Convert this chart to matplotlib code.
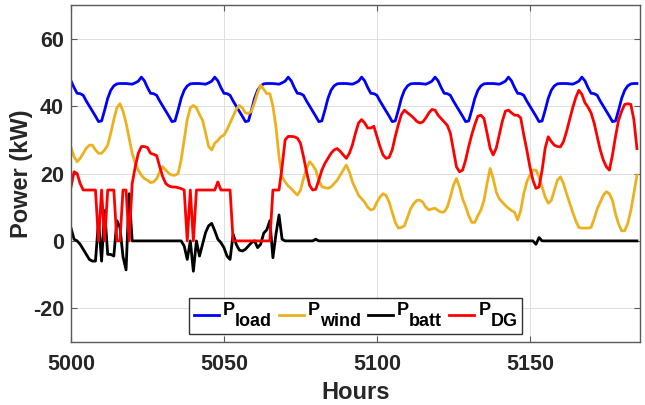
import numpy as np
import matplotlib
matplotlib.use("Agg")
import matplotlib.pyplot as plt
from matplotlib.offsetbox import AnchoredOffsetbox, HPacker, VPacker, TextArea, DrawingArea
from matplotlib.lines import Line2D

plt.rcParams['font.family'] = ['Liberation Sans', 'DejaVu Sans']
plt.rcParams['font.weight'] = 'bold'
plt.rcParams['axes.labelweight'] = 'bold'
plt.rcParams['axes.unicode_minus'] = False

hours = np.arange(5000, 5186)

p_load = [
    47.5, 45.5, 43.8, 43.7, 43.2, 41.5, 40.0, 38.5, 37.0, 35.4, 35.6, 38.8, 42.3, 44.7, 46.0, 46.6, 46.7, 46.7, 46.7, 46.6, 46.5, 46.9, 47.4, 48.6,
    47.5, 45.5, 43.8, 43.7, 43.2, 41.5, 40.0, 38.5, 37.0, 35.4, 35.6, 38.8, 42.3, 44.7, 46.0, 46.6, 46.7, 46.7, 46.7, 46.6, 46.5, 46.9, 47.4, 48.6,
    47.5, 45.5, 43.8, 43.7, 43.2, 41.5, 40.0, 38.5, 37.0, 35.4, 35.6, 38.8, 42.3, 44.7, 46.0, 46.6, 46.7, 46.7, 46.7, 46.6, 46.5, 46.9, 47.4, 48.6,
    47.5, 45.5, 43.8, 43.7, 43.2, 41.5, 40.0, 38.5, 37.0, 35.4, 35.6, 38.8, 42.3, 44.7, 46.0, 46.6, 46.7, 46.7, 46.7, 46.6, 46.5, 46.9, 47.4, 48.6,
    47.5, 45.5, 43.8, 43.7, 43.2, 41.5, 40.0, 38.5, 37.0, 35.4, 35.6, 38.8, 42.3, 44.7, 46.0, 46.6, 46.7, 46.7, 46.7, 46.6, 46.5, 46.9, 47.4, 48.6,
    47.5, 45.5, 43.8, 43.7, 43.2, 41.5, 40.0, 38.5, 37.0, 35.4, 35.6, 38.8, 42.3, 44.7, 46.0, 46.6, 46.7, 46.7, 46.7, 46.6, 46.5, 46.9, 47.4, 48.6,
    47.5, 45.5, 43.8, 43.7, 43.2, 41.5, 40.0, 38.5, 37.0, 35.4, 35.6, 38.8, 42.3, 44.7, 46.0, 46.6, 46.7, 46.7, 46.7, 46.6, 46.5, 46.9, 47.4, 48.6,
    47.5, 45.5, 43.8, 43.7, 43.2, 41.5, 40.0, 38.5, 37.0, 35.4, 35.6, 38.8, 42.3, 44.7, 46.0, 46.6, 46.7, 46.7,
]

p_wind = [
    27.7, 25.0, 23.5, 24.5, 26.0, 27.5, 28.4, 28.4, 27.0, 26.0,
    26.0, 27.0, 28.4, 32.0, 36.0, 39.5, 40.7, 38.5, 35.0, 30.5,
    26.0, 23.0, 21.0, 19.5, 18.5, 18.0, 17.3, 17.5, 18.5, 20.5,
    22.0, 21.0, 20.0, 19.5, 19.5, 20.0, 24.0, 30.0, 36.0, 39.5,
    40.2, 39.5, 37.5, 35.8, 32.0, 28.0, 27.0, 29.0, 29.8, 30.9,
    31.4, 33.0, 35.0, 37.0, 39.0, 40.2, 39.5, 38.0, 37.8, 38.5,
    41.0, 44.0, 46.2, 45.0, 43.7, 43.7, 40.0, 33.8, 25.0, 19.0,
    17.5, 16.3, 15.5, 14.5, 13.6, 15.0, 18.5, 21.5, 23.5, 22.5,
    21.0, 18.0, 16.1, 15.8, 15.6, 16.0, 17.0, 18.0, 19.5, 21.0,
    22.5, 20.5, 17.5, 15.5, 13.5, 12.5, 11.5, 10.0, 9.2, 9.5,
    11.5, 13.0, 14.0, 13.5, 11.5, 8.5, 5.5, 3.8, 4.0, 4.5,
    7.0, 9.5, 11.0, 12.0, 12.1, 11.5, 10.0, 9.2, 9.5, 9.7,
    9.0, 8.5, 8.6, 10.0, 13.0, 16.5, 18.5, 16.0, 12.5, 10.2,
    7.5, 5.5, 5.5, 7.5, 9.2, 12.0, 17.0, 21.5, 18.5, 14.5,
    12.5, 11.5, 10.5, 9.7, 9.0, 8.5, 6.2, 9.0, 14.0, 17.5,
    19.5, 21.0, 21.0, 19.0, 16.0, 13.0, 11.2, 12.0, 15.0, 18.0,
    19.0, 17.0, 14.0, 11.2, 8.5, 6.0, 4.0, 3.8, 3.8, 3.8,
    4.0, 6.5, 9.5, 11.5, 13.5, 14.6, 14.0, 12.0, 8.0, 5.0,
    3.0, 3.0, 5.2, 9.0, 14.1, 19.5,
]

p_batt = [
    3.8, 0.5, 0.0, -1.0, -2.5, -4.0, -5.5, -6.0, -6.0, 6.0,
    -6.0, 9.0, -4.0, -4.0, -4.5, 6.0, 4.0, -4.7, -8.6, 14.0,
    0.0, 0.0, 0.0, 0.0, 0.0, 0.0, 0.0, 0.0, 0.0, 0.0,
    0.0, 0.0, 0.0, 0.0, 0.0, 0.0, 0.0, -1.5, -5.5, 0.0,
    -9.0, 0.0, -4.5, -1.0, 2.5, 4.5, 5.2, 3.0, 0.5, -0.5,
    -2.0, -4.5, -5.5, 2.0, -1.0, -2.7, -3.0, -2.5, -1.5, -0.5,
    0.0, -2.0, -1.0, 2.3, 3.3, 6.0, -5.0, 2.0, 7.7, 0.5,
    0.0, 0.0, 0.0, 0.0, 0.0, 0.0, 0.0, 0.0, 0.0, 0.0,
    0.5, 0.0, 0.0, 0.0, 0.0, 0.0, 0.0, 0.0, 0.0, 0.0,
    0.0, 0.0, 0.0, 0.0, 0.0, 0.0, 0.0, 0.0, 0.0, 0.0,
    0.0, 0.0, 0.0, 0.0, 0.0, 0.0, 0.0, 0.0, 0.0, 0.0,
    0.0, 0.0, 0.0, 0.0, 0.0, 0.0, 0.0, 0.0, 0.0, 0.0,
    0.0, 0.0, 0.0, 0.0, 0.0, 0.0, 0.0, 0.0, 0.0, 0.0,
    0.0, 0.0, 0.0, 0.0, 0.0, 0.0, 0.0, 0.0, 0.0, 0.0,
    0.0, 0.0, 0.0, 0.0, 0.0, 0.0, 0.0, 0.0, 0.0, 0.0,
    0.0, 0.0, -1.0, 1.0, 0.0, 0.0, 0.0, 0.0, 0.0, 0.0,
    0.0, 0.0, 0.0, 0.0, 0.0, 0.0, 0.0, 0.0, 0.0, 0.0,
    0.0, 0.0, 0.0, 0.0, 0.0, 0.0, 0.0, 0.0, 0.0, 0.0,
    0.0, 0.0, 0.0, 0.0, 0.0, 0.0,
]

p_dg = [
    16.0, 20.5, 20.0, 17.0, 15.1, 15.1, 15.1, 15.1, 15.1, 0.0,
    15.1, 0.0, 15.1, 15.1, 15.1, 0.0, 0.0, 15.1, 15.1, 0.0,
    17.0, 22.0, 26.0, 28.0, 28.0, 27.7, 26.0, 25.7, 25.3, 22.0,
    19.0, 17.0, 16.3, 16.0, 16.0, 15.8, 15.5, 15.1, 0.0, 15.1,
    0.0, 15.1, 15.1, 15.1, 15.1, 15.1, 15.1, 15.1, 17.5, 15.1,
    15.1, 15.1, 15.1, 0.0, 0.0, 0.0, 0.0, 0.0, 0.0, 0.0,
    0.0, 0.0, 0.0, 0.0, 0.0, 0.0, 15.1, 15.1, 15.1, 22.0,
    30.0, 31.0, 31.0, 30.9, 30.5, 29.0, 25.0, 20.5, 16.5, 15.1,
    15.3, 18.0, 21.0, 23.0, 24.5, 26.0, 27.0, 27.4, 26.6, 25.5,
    24.5, 26.0, 28.5, 32.0, 35.0, 36.0, 35.0, 33.5, 33.5, 34.0,
    31.0, 28.0, 25.5, 24.5, 24.8, 27.0, 31.0, 34.5, 37.5, 38.8,
    38.0, 37.3, 36.5, 35.5, 35.0, 35.3, 36.5, 38.0, 39.0, 38.8,
    37.3, 36.3, 35.3, 34.3, 32.0, 27.0, 22.0, 20.5, 21.0, 24.0,
    28.0, 31.5, 34.5, 37.0, 37.3, 36.3, 32.0, 27.5, 25.5, 27.5,
    31.5, 35.5, 38.5, 38.8, 38.0, 37.3, 37.3, 36.5, 31.5, 27.0,
    22.0, 18.0, 15.6, 16.0, 21.0, 27.5, 30.9, 29.5, 28.4, 28.0,
    27.9, 29.5, 32.5, 36.0, 39.5, 42.5, 44.7, 43.5, 41.0, 39.7,
    38.0, 35.0, 31.0, 27.0, 24.0, 22.0, 21.0, 25.5, 31.0, 35.8,
    38.5, 40.5, 40.7, 40.5, 36.0, 27.4,
]

series_names = ["load", "wind", "batt", "DG"]
series_colors = ["#0000FF", "#EDB120", "#000000", "#FF0000"]
x_ticks = [5000, 5050, 5100, 5150]
y_ticks = [-20, 0, 20, 40, 60]

W, H = 645, 405
fig = plt.figure(figsize=(W / 100, H / 100), dpi=100)
ax = fig.add_axes([71 / W, 1 - 342 / H, (640 - 71) / W, (342 - 5) / H])

for data, color, name in zip([p_load, p_wind, p_batt, p_dg], series_colors, series_names):
    ax.plot(hours, data, color=color, lw=2.0)

ax.set_xlim(5000, 5186)
ax.set_ylim(-30, 70)
ax.set_xticks(x_ticks)
ax.set_yticks(y_ticks)
ax.grid(True, color="#dedede", lw=0.7)
ax.set_axisbelow(True)

dark = "#262626"
for s in ax.spines.values():
    s.set_color("#5a5a5a")
    s.set_linewidth(1.0)
ax.tick_params(axis="both", direction="in", top=True, right=True, length=4,
               width=0.8, color="#5a5a5a", labelsize=15.5, labelcolor=dark)
ax.tick_params(axis="x", pad=9)
ax.tick_params(axis="y", pad=5)
ax.set_xlabel("Hours", fontsize=17, color=dark, labelpad=4, fontweight="bold")
ax.set_ylabel("Power (kW)", fontsize=17, color=dark, labelpad=0, fontweight="bold")

# Legend with full-size subscripts (built from offset boxes)
fs = 13
handle_w = 18.0   # points
shift = 7.5       # subscript drop, points
tp = dict(fontsize=fs, fontweight="bold", color="black")
entries = []
for name, color in zip(series_names, series_colors):
    da = DrawingArea(handle_w, shift + 6, 0, 0)
    da.add_artist(Line2D([0, handle_w], [shift + 3.2, shift + 3.2], color=color, lw=2.0))
    p_box = VPacker(children=[TextArea("P", textprops=tp), DrawingArea(1, shift, 0, 0)],
                    pad=0, sep=0, align="left")
    sub_box = TextArea(name, textprops=tp)
    label_box = HPacker(children=[p_box, sub_box], pad=0, sep=0, align="bottom")
    entries.append(HPacker(children=[da, label_box], pad=0, sep=3, align="bottom"))
row = HPacker(children=entries, pad=0, sep=5, align="bottom")
leg = AnchoredOffsetbox(loc="lower center", child=row, pad=0.25, borderpad=0.44,
                        frameon=True, bbox_to_anchor=(0.5, 0.0),
                        bbox_transform=ax.transAxes, prop=dict(size=fs))
leg.patch.set_edgecolor("#333333")
leg.patch.set_linewidth(1.0)
leg.patch.set_facecolor("white")
leg.set_zorder(10)
ax.add_artist(leg)

fig.savefig("out.png", dpi=100)
